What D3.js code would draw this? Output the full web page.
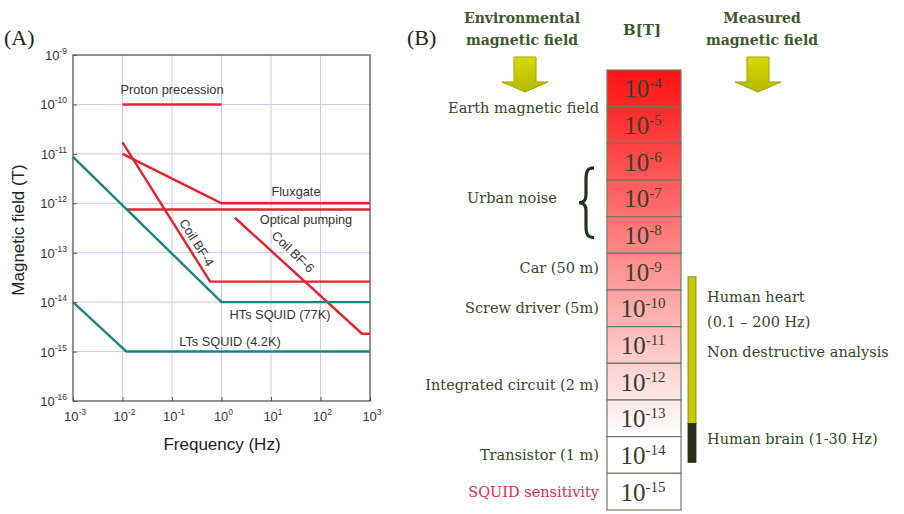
<!DOCTYPE html>
<html>
<head>
<meta charset="utf-8">
<script src="https://cdn.jsdelivr.net/npm/d3@7"></script>
<style>
  body { margin: 0; background: #fff; }
</style>
</head>
<body>
<div id="canvas"></div>
<script>
var width = 904;
var height = 514;

// ---- panel A data (frequency Hz, field T) ----
const freqTicks = [1e-3, 1e-2, 1e-1, 1, 1e1, 1e2, 1e3];
const fieldTicks = [1e-9, 1e-10, 1e-11, 1e-12, 1e-13, 1e-14, 1e-15, 1e-16];

const protonPrecession = [[1e-2, 1e-10], [1, 1e-10]];
const fluxgate = [[1e-2, 1e-11], [1, 1e-12], [1e3, 1e-12]];
const opticalPumping = [[1.2e-2, 7.5e-13], [1e3, 7.5e-13]];
const coilBF4 = [[1e-2, 1.7e-11], [0.59, 2.6e-14], [1e3, 2.6e-14]];
const coilBF6 = [[1.86, 5.1e-13], [690, 2.3e-15], [1e3, 2.3e-15]];
const htsSquid = [[1e-3, 8.7e-12], [1, 1e-14], [1e3, 1e-14]];
const ltsSquid = [[1e-3, 1e-14], [1.2e-2, 1e-15], [1e3, 1e-15]];

// ---- panel B data (exponents of B in tesla) ----
const cellExponents = [-4, -5, -6, -7, -8, -9, -10, -11, -12, -13, -14, -15];
const envLabels = ["Earth magnetic field", "Car (50 m)", "Screw driver (5m)",
                   "Integrated circuit (2 m)", "Transistor (1 m)", "SQUID sensitivity"];
const envLevels = [-4.54, -8.9, -10, -12.08, -14, -15];
const urbanNoise = [-6.17, -8.07];
const heartRange = [-9.14, -13.14];
const brainRange = [-13.14, -14.2];
const measLabels = ["Human heart", "(0.1 \u2013 200 Hz)", "Non destructive analysis", "Human brain (1-30 Hz)"];
const measLevels = [-9.7, -10.36, -11.2, -13.56];

var svg = d3.select("#canvas").append("svg")
    .attr("width", width)
    .attr("height", height)
    .style("font-family", "'Liberation Sans', Arial, sans-serif");
var defs = svg.append("defs");

// ================= Panel A =================
const x = d3.scaleLog().domain([1e-3, 1e3]).range([73, 370]);
const y = d3.scaleLog().domain([1e-9, 1e-16]).range([55, 401]);

var gA = svg.append("g");

// grid
gA.selectAll(".vgrid").data(freqTicks.slice(1, -1)).enter().append("line")
    .attr("x1", d => x(d)).attr("x2", d => x(d))
    .attr("y1", y(1e-9)).attr("y2", y(1e-16))
    .attr("stroke", "#c9c9ef").attr("stroke-width", 1);
gA.selectAll(".hgrid").data(fieldTicks.slice(1, -1)).enter().append("line")
    .attr("x1", x(1e-3)).attr("x2", x(1e3))
    .attr("y1", d => y(d)).attr("y2", d => y(d))
    .attr("stroke", "#c9c9ef").attr("stroke-width", 1);

// frame
gA.append("rect")
    .attr("x", x(1e-3)).attr("y", y(1e-9))
    .attr("width", x(1e3) - x(1e-3)).attr("height", y(1e-16) - y(1e-9))
    .attr("fill", "none").attr("stroke", "#555").attr("stroke-width", 1.3);

// ticks
var yAxis = d3.axisLeft(y).tickValues(fieldTicks).tickSize(-4).tickFormat("");
var xAxis = d3.axisBottom(x).tickValues(freqTicks).tickSize(-4).tickFormat("");
gA.append("g").attr("transform", "translate(" + x(1e-3) + ",0)").call(yAxis)
    .call(g => g.select(".domain").remove())
    .selectAll("line").attr("stroke", "#555");
gA.append("g").attr("transform", "translate(0," + y(1e-16) + ")").call(xAxis)
    .call(g => g.select(".domain").remove())
    .selectAll("line").attr("stroke", "#555");

function powLabel(sel, exp, baseSize, supSize, dy) {
  sel.append("tspan").text("10").attr("font-size", baseSize);
  sel.append("tspan").text(exp).attr("font-size", supSize).attr("dy", dy);
}

// tick labels
fieldTicks.forEach(function(d) {
  var t = gA.append("text")
      .attr("x", 67).attr("y", y(d) + 5)
      .attr("text-anchor", "end").attr("fill", "#333");
  powLabel(t, Math.round(Math.log10(d)), 13, 8.5, -6);
});
freqTicks.forEach(function(d) {
  var t = gA.append("text")
      .attr("x", x(d) + 2).attr("y", 421)
      .attr("text-anchor", "middle").attr("fill", "#333");
  powLabel(t, Math.round(Math.log10(d)), 13, 8.5, -6);
});

// axis titles
gA.append("text").attr("x", 222).attr("y", 450)
    .attr("text-anchor", "middle").attr("font-size", 17).attr("fill", "#222")
    .text("Frequency (Hz)");
gA.append("text")
    .attr("transform", "translate(24,230) rotate(-90)")
    .attr("text-anchor", "middle").attr("font-size", 17).attr("fill", "#222")
    .text("Magnetic field (T)");

gA.append("text").attr("x", 4).attr("y", 45)
    .attr("font-family", "'Liberation Serif', serif").attr("font-size", 22).attr("fill", "#222")
    .text("(A)");

// curves
var line = d3.line().x(d => x(d[0])).y(d => y(d[1]));
var red = "#e52330", teal = "#1d8282";
[[protonPrecession, red], [fluxgate, red], [opticalPumping, red], [coilBF4, red],
 [coilBF6, red], [htsSquid, teal], [ltsSquid, teal]].forEach(function(s) {
  gA.append("path").datum(s[0]).attr("d", line)
      .attr("fill", "none").attr("stroke", s[1]).attr("stroke-width", 2.4);
});

// curve labels
function lab(txt, px, py, rot) {
  gA.append("text")
      .attr("transform", "translate(" + px + "," + py + ") rotate(" + (rot || 0) + ")")
      .attr("text-anchor", "middle").attr("font-size", 12.8).attr("fill", "#333")
      .text(txt);
}
lab("Proton precession", 172, 94);
lab("Fluxgate", 296, 196);
lab("Optical pumping", 306, 224);
lab("Coil BF-4", 193, 245, 58);
lab("Coil BF-6", 290, 255, 44);
lab("HTs SQUID (77K)", 280, 319);
lab("LTs SQUID (4.2K)", 230, 346);

// ================= Panel B =================
var serif = "'DejaVu Serif', 'Liberation Serif', serif";
var gB = svg.append("g").style("font-family", serif);
var green = "#2f4a25";
const yb = d3.scaleLinear().domain([-3.5, -15.5]).range([70, 510]);
const colX = 607, colW = 74;
const cellColor = d3.scaleLinear().domain([-3.5, -13.5]).range(["#ff1212", "#ffffff"]).clamp(true);

gB.append("text").attr("x", 407).attr("y", 45).attr("font-size", 22)
    .attr("font-family", "'Liberation Serif', serif").attr("fill", "#222").text("(B)");

// headers
[["Environmental", "magnetic field", 522], ["Measured", "magnetic field", 762]].forEach(function(h) {
  var t = gB.append("text").attr("text-anchor", "middle").attr("font-weight", "bold")
      .attr("font-size", 14).attr("fill", "#3e5a2c");
  t.append("tspan").attr("x", h[2]).attr("y", 23).text(h[0]);
  t.append("tspan").attr("x", h[2]).attr("y", 45).text(h[1]);
});
gB.append("text").attr("x", 642).attr("y", 35).attr("text-anchor", "middle")
    .attr("font-weight", "bold").attr("font-size", 15).attr("fill", "#3e5a2c").text("B[T]");

// arrows
var ag = defs.append("linearGradient").attr("id", "arrowGrad").attr("x1", 0).attr("x2", 0).attr("y1", 0).attr("y2", 1);
ag.append("stop").attr("offset", "0%").attr("stop-color", "#d9d900");
ag.append("stop").attr("offset", "100%").attr("stop-color", "#b5b800");
[525, 758].forEach(function(cx) {
  var pts = [[cx - 11, 57], [cx + 11, 57], [cx + 11, 82], [cx + 23, 82], [cx, 92],
             [cx - 23, 82], [cx - 11, 82]];
  gB.append("polygon").attr("points", pts.map(p => p.join(",")).join(" "))
      .attr("fill", "url(#arrowGrad)").attr("stroke", "#a3a300").attr("stroke-width", 1);
});

// column cells, each with its own vertical slice of the red-to-white ramp
cellExponents.forEach(function(d) {
  var g = defs.append("linearGradient").attr("id", "cell" + (-d))
      .attr("x1", 0).attr("x2", 0).attr("y1", 0).attr("y2", 1);
  g.append("stop").attr("offset", "0%").attr("stop-color", cellColor(d + 0.5));
  g.append("stop").attr("offset", "100%").attr("stop-color", cellColor(d - 0.5));
});
gB.selectAll(".cell").data(cellExponents).enter().append("rect")
    .attr("x", colX).attr("y", d => yb(d + 0.5))
    .attr("width", colW).attr("height", d => yb(d - 0.5) - yb(d + 0.5))
    .attr("fill", d => "url(#cell" + (-d) + ")")
    .attr("stroke", "#6e7a68").attr("stroke-width", 1.2);
cellExponents.forEach(function(d) {
  var t = gB.append("text").attr("x", colX + colW / 2 - 1).attr("y", yb(d) + 9)
      .attr("text-anchor", "middle").attr("fill", "#34402c")
      .attr("font-family", "'Liberation Serif', serif");
  powLabel(t, d, 25, 15, -9);
});

// environmental labels
envLabels.forEach(function(s, i) {
  gB.append("text").attr("x", 599).attr("y", yb(envLevels[i]) + 5)
      .attr("text-anchor", "end").attr("font-size", 14.5)
      .attr("fill", i === envLabels.length - 1 ? "#d6304a" : green)
      .text(s);
});
gB.append("text").attr("x", 512).attr("y", yb(-7) + 5)
    .attr("text-anchor", "middle").attr("font-size", 14.5).attr("fill", green)
    .text("Urban noise");

// brace
var b0 = yb(urbanNoise[0]), b1 = yb(urbanNoise[1]), bm = (b0 + b1) / 2;
gB.append("path")
    .attr("d", "M594," + b0 + " C587," + b0 + " 586," + (b0 + 4) + " 586," + (b0 + 12) +
         " L586," + (bm - 8) + " C586," + (bm - 3) + " 584," + bm + " 579," + bm +
         " C584," + bm + " 586," + (bm + 3) + " 586," + (bm + 8) +
         " L586," + (b1 - 12) + " C586," + (b1 - 4) + " 587," + b1 + " 594," + b1)
    .attr("fill", "none").attr("stroke", "#1c3418").attr("stroke-width", 3.2);

// measured ranges
gB.append("rect").attr("x", 688).attr("y", yb(heartRange[0]))
    .attr("width", 8).attr("height", yb(heartRange[1]) - yb(heartRange[0]))
    .attr("fill", "#c9c900").attr("stroke", "#7a7a20").attr("stroke-width", 0.8);
gB.append("rect").attr("x", 688).attr("y", yb(brainRange[0]))
    .attr("width", 8).attr("height", yb(brainRange[1]) - yb(brainRange[0]))
    .attr("fill", "#2b2e14").attr("stroke", "#2b2e14").attr("stroke-width", 0.8);

measLabels.forEach(function(s, i) {
  gB.append("text").attr("x", 707).attr("y", yb(measLevels[i]) + 5)
      .attr("font-size", 14.5).attr("fill", green).text(s);
});
</script>
</body>
</html>
